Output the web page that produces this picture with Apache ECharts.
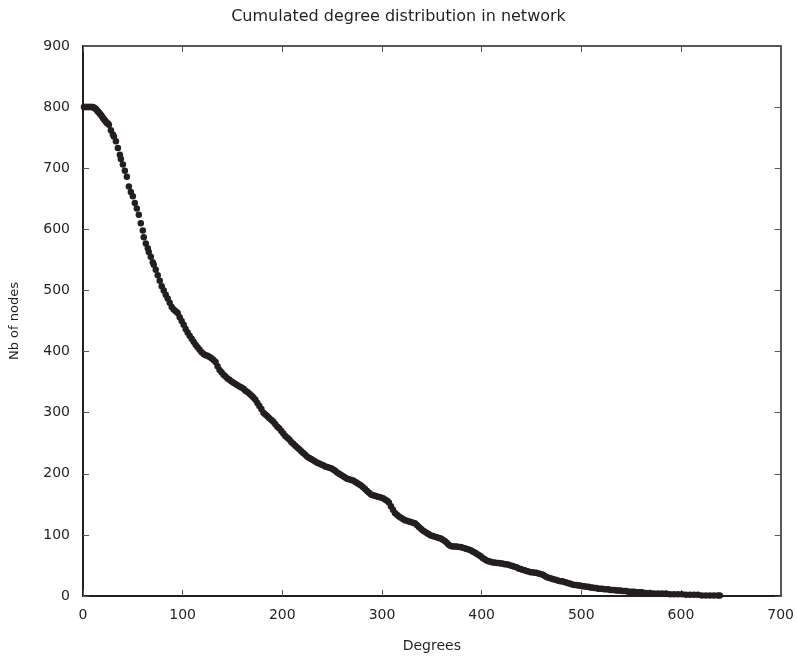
<!DOCTYPE html>
<html>
<head>
<meta charset="utf-8">
<title>Cumulated degree distribution</title>
<script src="https://cdn.jsdelivr.net/npm/echarts@6/dist/echarts.min.js"></script>
<style>
  html, body { margin: 0; padding: 0; background: #fff; }
  #chart { width: 797px; height: 658px; }
</style>
</head>
<body>
<div id="chart"></div>
<script>
// Degree values (x) and number of nodes with at least that degree (y)
var degrees = [
  1, 2, 3, 4, 5, 6, 7, 8, 9, 10, 11, 12, 13, 14, 15, 16, 17, 18, 19, 20,
  21, 22, 23, 24, 25, 26, 28, 30, 31, 33, 35, 37, 38, 40, 42, 44, 46, 48, 50, 52,
  54, 56, 58, 60, 61, 63, 65, 66, 68, 70, 71, 73, 75, 77, 79, 81, 83, 85, 87, 89,
  91, 93, 95, 97, 99, 101, 103, 105, 107, 109, 111, 113, 115, 117, 119, 121, 123, 125, 127, 129,
  131, 133, 135, 137, 139, 141, 143, 145, 147, 149, 151, 153, 155, 157, 159, 161, 163, 165, 167, 169,
  171, 173, 175, 177, 179, 181, 183, 185, 187, 189, 191, 193, 195, 197, 199, 201, 203, 205, 207, 209,
  211, 213, 215, 217, 219, 221, 223, 225, 227, 229, 231, 233, 235, 237, 239, 241, 243, 245, 247, 249,
  251, 253, 255, 257, 259, 261, 263, 265, 267, 269, 271, 273, 275, 277, 279, 281, 283, 285, 287, 289,
  291, 293, 295, 297, 299, 301, 303, 305, 307, 309, 311, 313, 315, 317, 319, 321, 323, 325, 327, 329,
  331, 333, 335, 337, 339, 341, 343, 345, 347, 349, 351, 353, 355, 357, 359, 361, 363, 365, 367, 369,
  371, 373, 375, 377, 379, 381, 383, 385, 387, 389, 391, 393, 395, 397, 399, 401, 403, 405, 407, 409,
  411, 413, 415, 417, 419, 421, 423, 425, 427, 429, 431, 433, 435, 437, 439, 441, 443, 445, 447, 449,
  451, 453, 455, 457, 459, 461, 463, 465, 467, 469, 471, 473, 475, 477, 479, 481, 483, 485, 487, 489,
  491, 493, 495, 497, 499, 501, 503, 505, 507, 509, 511, 513, 515, 517, 519, 521, 523, 525, 527, 529,
  531, 533, 535, 537, 539, 541, 543, 545, 547, 549, 551, 553, 555, 557, 559, 561, 565, 569, 573, 577,
  581, 585, 589, 593, 597, 601, 605, 609, 613, 617, 621, 625, 629, 633, 637, 639
];
var nodes = [
  800, 800, 800, 800, 800, 800, 800, 800, 800, 800, 799, 798, 797, 795, 793, 791, 789, 787, 785, 782,
  780, 778, 776, 774, 773, 771, 762, 755, 752, 744, 733, 722, 715, 706, 696, 686, 670, 661, 654, 643,
  634, 624, 610, 598, 587, 577, 569, 563, 555, 546, 542, 534, 525, 516, 507, 500, 493, 487, 480, 473,
  469, 466, 463, 456, 450, 444, 437, 431, 426, 421, 416, 411, 407, 403, 399, 396, 394, 393, 391, 389,
  386, 383, 376, 370, 366, 362, 359, 356, 354, 351, 349, 347, 345, 343, 341, 339, 336, 334, 331, 328,
  325, 321, 316, 311, 306, 300, 297, 294, 291, 288, 285, 281, 277, 274, 270, 266, 262, 259, 256, 252,
  249, 246, 243, 240, 237, 234, 231, 228, 226, 224, 222, 220, 218, 217, 215, 214, 212, 211, 210, 209,
  207, 205, 202, 200, 198, 196, 194, 192, 191, 190, 189, 187, 185, 183, 181, 178, 175, 172, 169, 166,
  165, 164, 163, 162, 161, 160, 158, 156, 153, 147, 141, 136, 133, 130, 128, 126, 124, 123, 122, 121,
  120, 119, 116, 113, 110, 107, 105, 103, 101, 99, 98, 97, 96, 95, 94, 92, 90, 87, 84, 82,
  81, 81, 81, 80, 80, 79, 78, 77, 76, 75, 73, 71, 69, 67, 65, 62, 60, 58, 57, 56,
  55, 55, 54, 54, 53, 53, 52, 52, 51, 50, 49, 48, 47, 45, 44, 43, 42, 41, 40, 39,
  39, 38, 38, 37, 36, 35, 33, 31, 30, 29, 28, 27, 26, 25, 24, 24, 23, 22, 21, 20,
  19, 18, 18, 17, 17, 16, 16, 15, 15, 14, 14, 13, 13, 12, 12, 12, 11, 11, 11, 10,
  10, 10, 9, 9, 9, 8, 8, 8, 7, 7, 7, 7, 6, 6, 6, 6, 5, 5, 4, 4,
  4, 4, 3, 3, 3, 3, 2, 2, 2, 2, 1, 1, 1, 1, 1, 1
];
var xTicks = [0, 100, 200, 300, 400, 500, 600, 700];
var yTicks = [0, 100, 200, 300, 400, 500, 600, 700, 800, 900];

var points = degrees.map(function (d, i) { return [d, nodes[i]]; });

var ink = '#231f20';
var font = '"DejaVu Sans", "Liberation Sans", Arial, sans-serif';

var chart = echarts.init(document.getElementById('chart'));

chart.setOption({
    animation: false,
    textStyle: {
        fontFamily: font,
        color: ink
    },

    title: {
        text: 'Cumulated degree distribution in network',
        left: 'center',
        top: 4,
        textStyle: {
            fontFamily: font,
            fontSize: 16,
            fontWeight: 'normal',
            color: ink
        }
    },

    grid: {
        left: 82,
        right: 15,
        top: 46,
        bottom: 58
    },

    xAxis: [{
        type: 'value',
        min: xTicks[0],
        max: xTicks[xTicks.length - 1],
        interval: 100,
        name: 'Degrees',
        nameLocation: 'middle',
        nameGap: 43,
        nameTextStyle: { fontSize: 14, color: ink },
        axisLine: { onZero: false, lineStyle: { color: ink, width: 2 } },
        axisTick: { inside: true, length: 6, lineStyle: { color: '#555', width: 1 } },
        axisLabel: { fontSize: 14, color: ink, margin: 12 },
        splitLine: { show: false }
    }, {
        type: 'value',
        position: 'top',
        min: xTicks[0],
        max: xTicks[xTicks.length - 1],
        interval: 100,
        axisLine: { onZero: false, lineStyle: { color: ink, width: 1.5 } },
        axisTick: { inside: true, length: 6, lineStyle: { color: '#555', width: 1 } },
        axisLabel: { show: false },
        splitLine: { show: false }
    }],

    yAxis: [{
        type: 'value',
        min: yTicks[0],
        max: yTicks[yTicks.length - 1],
        interval: 100,
        name: 'Nb of nodes',
        nameLocation: 'middle',
        nameGap: 62,
        nameTextStyle: { fontSize: 13, color: ink },
        axisLine: { show: true, onZero: false, lineStyle: { color: ink, width: 2 } },
        axisTick: { show: true, inside: true, length: 6, lineStyle: { color: '#555', width: 1 } },
        axisLabel: { fontSize: 14, color: ink, margin: 13 },
        splitLine: { show: false }
    }, {
        type: 'value',
        position: 'right',
        min: yTicks[0],
        max: yTicks[yTicks.length - 1],
        interval: 100,
        axisLine: { show: true, onZero: false, lineStyle: { color: ink, width: 1.5 } },
        axisTick: { show: true, inside: true, length: 6, lineStyle: { color: '#555', width: 1 } },
        axisLabel: { show: false },
        splitLine: { show: false }
    }],

    series: [{
        type: 'scatter',
        xAxisIndex: 0,
        yAxisIndex: 0,
        symbol: 'circle',
        symbolSize: 6.5,
        itemStyle: { color: ink, opacity: 1 },
        data: points
    }]
});
</script>
</body>
</html>
